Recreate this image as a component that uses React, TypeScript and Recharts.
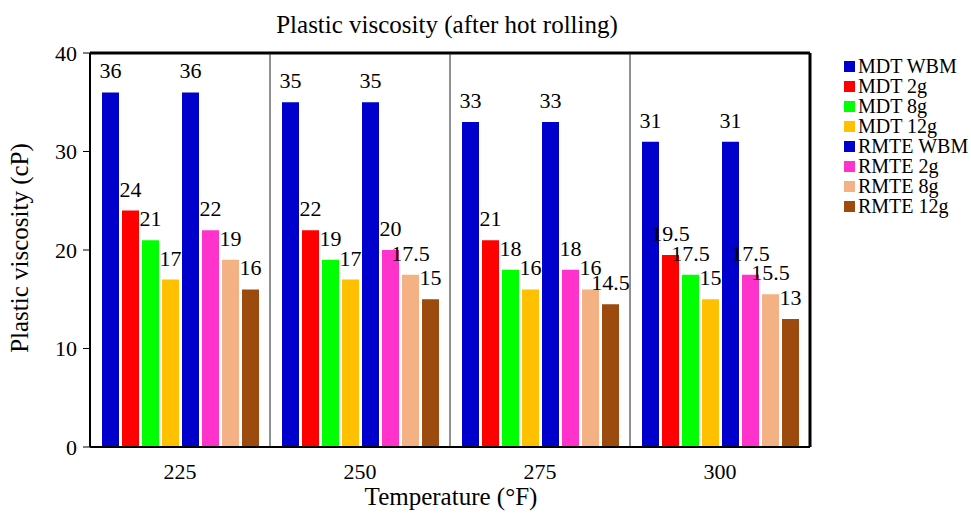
import { BarChart, Bar, XAxis, YAxis, LabelList, ReferenceLine } from 'recharts';

const temperatures = ['225', '250', '275', '300'];
const mdtWbm = [36, 35, 33, 31];
const mdt2g = [24, 22, 21, 19.5];
const mdt8g = [21, 19, 18, 17.5];
const mdt12g = [17, 17, 16, 15];
const rmteWbm = [36, 35, 33, 31];
const rmte2g = [22, 20, 18, 17.5];
const rmte8g = [19, 17.5, 16, 15.5];
const rmte12g = [16, 15, 14.5, 13];
const yTicks = [0, 10, 20, 30, 40];

const series = [
  { key: 'mdtWbm', name: 'MDT WBM', values: mdtWbm, color: '#0000CC' },
  { key: 'mdt2g', name: 'MDT 2g', values: mdt2g, color: '#FF0000' },
  { key: 'mdt8g', name: 'MDT 8g', values: mdt8g, color: '#00FF00' },
  { key: 'mdt12g', name: 'MDT 12g', values: mdt12g, color: '#FFC000' },
  { key: 'rmteWbm', name: 'RMTE WBM', values: rmteWbm, color: '#0000CC' },
  { key: 'rmte2g', name: 'RMTE 2g', values: rmte2g, color: '#FF33CC' },
  { key: 'rmte8g', name: 'RMTE 8g', values: rmte8g, color: '#F4B183' },
  { key: 'rmte12g', name: 'RMTE 12g', values: rmte12g, color: '#9C4A0E' },
];

const data = temperatures.map((t, i) => {
  const row: Record<string, string | number> = { temp: t };
  series.forEach((s) => {
    row[s.key] = s.values[i];
  });
  return row;
});

const font = '"Liberation Serif", "Times New Roman", serif';

function LegendBox() {
  return (
    <div style={{ position: 'absolute', left: 844, top: 56, fontFamily: font, fontSize: 20, lineHeight: '20px', color: '#000' }}>
      {series.map((s) => (
        <div key={s.key} style={{ display: 'flex', alignItems: 'center', height: 20, whiteSpace: 'nowrap' }}>
          <span style={{ width: 11, height: 11, background: s.color, marginRight: 3, display: 'inline-block' }} />
          <span>{s.name}</span>
        </div>
      ))}
    </div>
  );
}

export default function App() {
  return (
    <div style={{ position: 'absolute', left: 0, top: 0, width: 971, height: 514, background: '#fff', fontFamily: font, color: '#000' }}>
      <BarChart
        width={971}
        height={514}
        data={data}
        margin={{ top: 53, right: 161, left: 0, bottom: 0 }}
        barCategoryGap={12}
        barGap={3}
      >
        <XAxis
          dataKey="temp"
          height={67}
          axisLine={{ stroke: '#000', strokeWidth: 2 }}
          tickLine={false}
          tick={{ fill: '#000', fontSize: 22, fontFamily: font }}
          tickMargin={10}
        />
        <YAxis
          width={90}
          domain={[0, 40]}
          ticks={yTicks}
          axisLine={{ stroke: '#000', strokeWidth: 2 }}
          tickLine={{ stroke: '#000' }}
          tickSize={7}
          tickMargin={6}
          tick={{ fill: '#000', fontSize: 22, fontFamily: font }}
        />
        {/* frame: top and right edges, plus separators between temperature groups */}
        <ReferenceLine y={40} stroke="#000" strokeWidth={3} />
        <ReferenceLine x="300" position="end" stroke="#000" strokeWidth={3} />
        {temperatures.slice(1).map((t) => (
          <ReferenceLine key={t} x={t} position="start" stroke="#222" strokeWidth={1} />
        ))}
        {series.map((s) => (
          <Bar key={s.key} dataKey={s.key} name={s.name} fill={s.color} isAnimationActive={false}>
            <LabelList dataKey={s.key} position="top" offset={14} fill="#000" fontSize={22} fontFamily={font} />
          </Bar>
        ))}
      </BarChart>
      <div style={{ position: 'absolute', top: 10, left: 147, width: 600, textAlign: 'center', fontSize: 25, lineHeight: '30px' }}>
        Plastic viscosity (after hot rolling)
      </div>
      <div style={{ position: 'absolute', top: 482, left: 301, width: 300, textAlign: 'center', fontSize: 25, lineHeight: '30px' }}>
        Temperature (°F)
      </div>
      <div
        style={{
          position: 'absolute',
          left: 20,
          top: 248,
          width: 300,
          marginLeft: -150,
          marginTop: -15,
          textAlign: 'center',
          fontSize: 25,
          lineHeight: '30px',
          transform: 'rotate(-90deg)',
        }}
      >
        Plastic viscosity (cP)
      </div>
      <LegendBox />
    </div>
  );
}
